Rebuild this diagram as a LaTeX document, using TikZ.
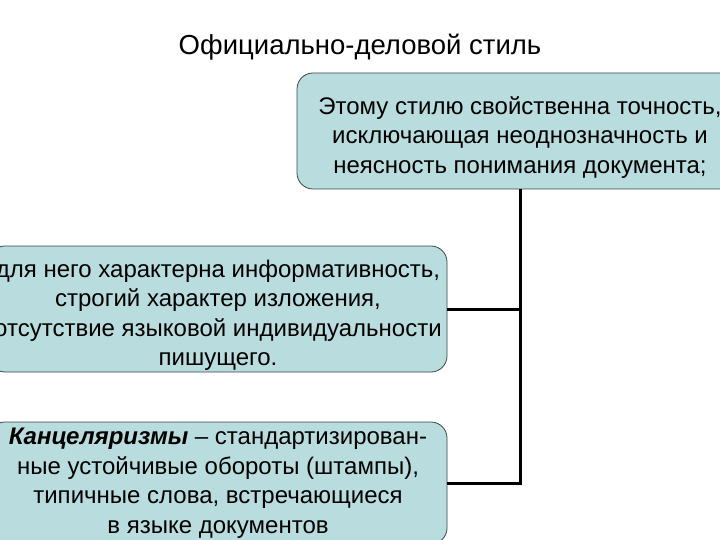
\documentclass[tikz,border=0pt]{standalone}
\usepackage{fontspec}
\setmainfont{Liberation Sans}
\usetikzlibrary{positioning}
\definecolor{boxfill}{RGB}{185,221,222}
\definecolor{boxline}{RGB}{60,70,70}

\begin{document}
\begin{tikzpicture}[x=1pt, y=-1pt,
    infobox/.style = {draw=boxline, fill=boxfill, line width=0.8pt,
        rounded corners=16pt, align=center, inner sep=0pt,
        font=\fontsize{24}{29.5}\selectfont},
    link/.style = {line width=3pt}
]
    \useasboundingbox (0,0) rectangle (720,540);
    \clip (0,0) rectangle (720,540);

    \node [font=\fontsize{27.5}{32}\selectfont] (title) at (360,47)
        {Официально-деловой стиль};

    \node [infobox,
        minimum width=446pt,
        minimum height=116pt
    ] (top) at (520,131) {
        \rule{0pt}{30pt}Этому стилю свойственна точность,\\
        исключающая неоднозначность и\\
        неясность понимания документа;
    };

    \node [infobox,
        minimum width=458pt,
        minimum height=126pt
    ] (info) at (218,309) {
        \rule{0pt}{30pt}для него характерна информативность,\\
        строгий характер изложения,\\
        отсутствие языковой индивидуальности\\
        пишущего.
    };

    \node [infobox,
        minimum width=458pt,
        minimum height=122pt
    ] (kanc) at (218,483) {
        \textbf{\textit{Канцеляризмы}} – стандартизирован-\\
        ные устойчивые обороты (штампы),\\
        типичные слова, встречающиеся\\
        в языке документов
    };

    % connectors
    \draw [link] (top.south) -- (top.south |- kanc.east) -- (kanc.east);
    \draw [link] (info.east) -- (info.east -| top.south);
\end{tikzpicture}
\end{document}
